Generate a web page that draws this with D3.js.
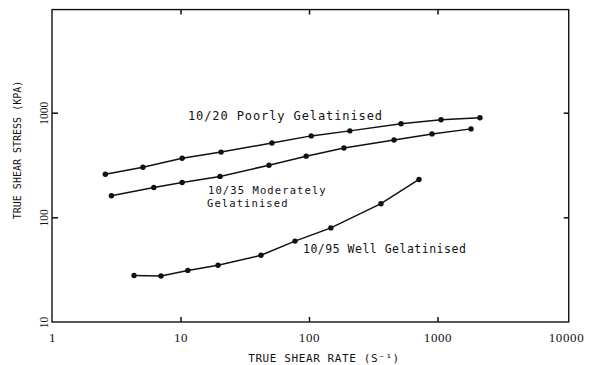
<!DOCTYPE html>
<html>
<head>
<meta charset="utf-8">
<script src="https://cdn.jsdelivr.net/npm/d3@7"></script>
<style>
  body { margin: 0; background: #fff; }
  .lbl { font-family: "DejaVu Sans Mono", monospace; fill: #111; }
</style>
</head>
<body>
<div id="chart"></div>
<script>
// 10/20 Poorly Gelatinised
const rate20 = [2.6, 5.1, 10.3, 20.7, 51.5, 104, 208, 520, 1065, 2140];
const stress20 = [258, 301, 367, 420, 513, 600, 670, 783, 855, 895];
// 10/35 Moderately Gelatinised
const rate35 = [2.9, 6.2, 10.3, 20.3, 48.8, 95, 187, 459, 906, 1823];
const stress35 = [161, 193, 215, 246, 315, 384, 459, 548, 627, 700];
// 10/95 Well Gelatinised
const rate95 = [4.35, 7.05, 11.4, 19.6, 42.3, 77.8, 148, 363, 718];
const stress95 = [27.8, 27.5, 31.1, 34.8, 43.4, 59.3, 79.3, 135, 230];

const xTicks = [1, 10, 100, 1000, 10000];
const yTicks = [10, 100, 1000];

const W = 595, H = 365;

const svg = d3.select("#chart")
  .append("svg")
  .attr("width", W)
  .attr("height", H);

const x = d3.scaleLog().domain([1, 10000]).range([52, 566]);
const y = d3.scaleLog().domain([10, 10000]).range([322, 8]);

const xMax = 10500, yMax = 9660; // frame extents

// frame
svg.append("rect")
  .attr("x", x(1))
  .attr("y", y(yMax))
  .attr("width", x(xMax) - x(1))
  .attr("height", y(10) - y(yMax))
  .attr("fill", "none")
  .attr("stroke", "#111")
  .attr("stroke-width", 1.4);

// inward ticks on all four sides
const inner = [10, 100, 1000];
svg.append("g")
  .attr("transform", `translate(0,${y(10)})`)
  .call(d3.axisBottom(x).tickValues(inner).tickSize(-5).tickFormat(""))
  .call(g => g.select(".domain").remove());
svg.append("g")
  .attr("transform", `translate(0,${y(yMax)})`)
  .call(d3.axisTop(x).tickValues(inner).tickSize(-5).tickFormat(""))
  .call(g => g.select(".domain").remove());
svg.append("g")
  .attr("transform", `translate(${x(1)},0)`)
  .call(d3.axisLeft(y).tickValues([100, 1000]).tickSize(-6).tickFormat(""))
  .call(g => g.select(".domain").remove());
svg.append("g")
  .attr("transform", `translate(${x(xMax)},0)`)
  .call(d3.axisRight(y).tickValues([100, 1000]).tickSize(-5).tickFormat(""))
  .call(g => g.select(".domain").remove());
svg.selectAll(".tick line").attr("stroke", "#111").attr("stroke-width", 1.5);

// tick labels
svg.append("g")
  .attr("transform", `translate(0,${y(10)})`)
  .call(d3.axisBottom(x).tickValues(xTicks).tickSize(0).tickPadding(11).tickFormat(d3.format("d")))
  .call(g => g.select(".domain").remove())
  .selectAll("text")
  .attr("font-family", "Liberation Serif, serif")
  .attr("font-size", 13)
  .attr("letter-spacing", 0.6)
  .attr("fill", "#111");

svg.append("g")
  .attr("transform", `translate(${x(1)},0)`)
  .call(d3.axisLeft(y).tickValues(yTicks).tickSize(0).tickFormat(d3.format("d")))
  .call(g => g.select(".domain").remove())
  .selectAll("text")
  .attr("x", 0)
  .attr("y", -4)
  .attr("dy", 0)
  .attr("text-anchor", "middle")
  .attr("transform", "rotate(-90)")
  .attr("font-family", "Liberation Serif, serif")
  .attr("font-size", 11.5)
  .attr("fill", "#111");

// axis titles
svg.append("text")
  .attr("class", "lbl")
  .attr("x", 324)
  .attr("y", 362)
  .attr("text-anchor", "middle")
  .attr("font-size", 11)
  .attr("letter-spacing", 0.6)
  .text("TRUE SHEAR RATE (S⁻¹)");

svg.append("text")
  .attr("class", "lbl")
  .attr("transform", "translate(21,150) rotate(-90)")
  .attr("text-anchor", "middle")
  .attr("font-size", 10)
  .text("TRUE SHEAR STRESS (KPA)");

// series
const series = [
  { rate: rate20, stress: stress20 },
  { rate: rate35, stress: stress35 },
  { rate: rate95, stress: stress95 }
];

const line = d3.line()
  .x(d => x(d[0]))
  .y(d => y(d[1]));

series.forEach(s => {
  const pts = s.rate.map((r, i) => [r, s.stress[i]]);
  svg.append("path")
    .datum(pts)
    .attr("d", line)
    .attr("fill", "none")
    .attr("stroke", "#111")
    .attr("stroke-width", 1.5);
  svg.selectAll(null)
    .data(pts)
    .enter()
    .append("circle")
    .attr("cx", d => x(d[0]))
    .attr("cy", d => y(d[1]))
    .attr("r", 2.7)
    .attr("fill", "#111");
});

// series labels
svg.append("text")
  .attr("class", "lbl")
  .attr("x", 188).attr("y", 120)
  .attr("font-size", 12)
  .attr("letter-spacing", 0.9)
  .text("10/20 Poorly Gelatinised");

svg.append("text")
  .attr("class", "lbl")
  .attr("x", 208).attr("y", 194)
  .attr("font-size", 10.5)
  .attr("letter-spacing", 1.1)
  .text("10/35 Moderately");

svg.append("text")
  .attr("class", "lbl")
  .attr("x", 207).attr("y", 207)
  .attr("font-size", 10.5)
  .attr("letter-spacing", 1.1)
  .text("Gelatinised");

svg.append("text")
  .attr("class", "lbl")
  .attr("x", 303).attr("y", 253)
  .attr("font-size", 11.5)
  .attr("letter-spacing", 0.5)
  .text("10/95 Well Gelatinised");
</script>
</body>
</html>
